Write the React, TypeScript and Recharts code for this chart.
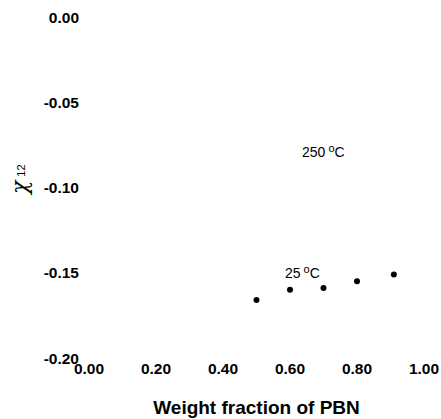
import { ScatterChart, Scatter, XAxis, YAxis } from 'recharts';

// weight fraction of PBN and chi_12 at 25 C
const weightFraction = [0.5, 0.6, 0.7, 0.8, 0.91];
const chi25 = [-0.166, -0.16, -0.159, -0.155, -0.151];

const xTicks = [0, 0.2, 0.4, 0.6, 0.8, 1.0];
const yTicks = [0, -0.05, -0.1, -0.15, -0.2];

// temperature notes (data coords of the text start / baseline)
const noteTemps = ['250', '25'];
const noteX = [0.636, 0.585];
const noteY = [-0.082, -0.153];

const points = weightFraction.map((x, i) => ({ x, y: chi25[i] }));
const notes = noteTemps.map((t, i) => ({ x: noteX[i], y: noteY[i], t }));

const font = "Arial, 'Liberation Sans', sans-serif";
const tickStyle = { fill: '#000', fontSize: 15.5, fontWeight: 700, fontFamily: font };

const Dot = (p: any) => <circle cx={p.cx} cy={p.cy} r={3} fill="#000" />;

const Note = (p: any) => (
  <text x={p.cx} y={p.cy} fontFamily={font} fontSize={14} fill="#000">
    {p.payload.t}
    <tspan dx={3} dy={-5} fontSize={11}>o</tspan>
    <tspan dy={5}>C</tspan>
  </text>
);

const YLabel = () => (
  <text transform="translate(27,194) rotate(-90)" fontFamily="'DejaVu Serif', serif" fill="#000">
    <tspan fontSize={22} fontStyle="italic">χ</tspan>
    <tspan dx={4} dy={-2} fontSize={11} fontFamily={font}>12</tspan>
  </text>
);

export default function App() {
  return (
    <div style={{ position: 'absolute', left: 0, top: 0, background: '#fff' }}>
      <ScatterChart width={441} height={419} margin={{ top: 17, right: 17, left: 0, bottom: 0 }}>
        <XAxis
          type="number"
          dataKey="x"
          domain={[0, 1]}
          ticks={xTicks}
          tickFormatter={(v) => v.toFixed(2)}
          axisLine={false}
          tickLine={false}
          tickSize={0}
          tickMargin={5}
          tick={tickStyle}
          height={61}
          label={{
            value: 'Weight fraction of PBN',
            position: 'insideBottom',
            offset: 5,
            style: { fill: '#000', fontSize: 19, fontWeight: 700, fontFamily: font },
          }}
        />
        <YAxis
          type="number"
          dataKey="y"
          domain={[-0.2, 0]}
          ticks={yTicks}
          tickFormatter={(v) => v.toFixed(2)}
          axisLine={false}
          tickLine={false}
          tickSize={0}
          tickMargin={10}
          tick={tickStyle}
          width={89}
          label={{ content: YLabel }}
        />
        <Scatter data={points} shape={Dot} isAnimationActive={false} />
        <Scatter data={notes} shape={Note} isAnimationActive={false} />
      </ScatterChart>
    </div>
  );
}
